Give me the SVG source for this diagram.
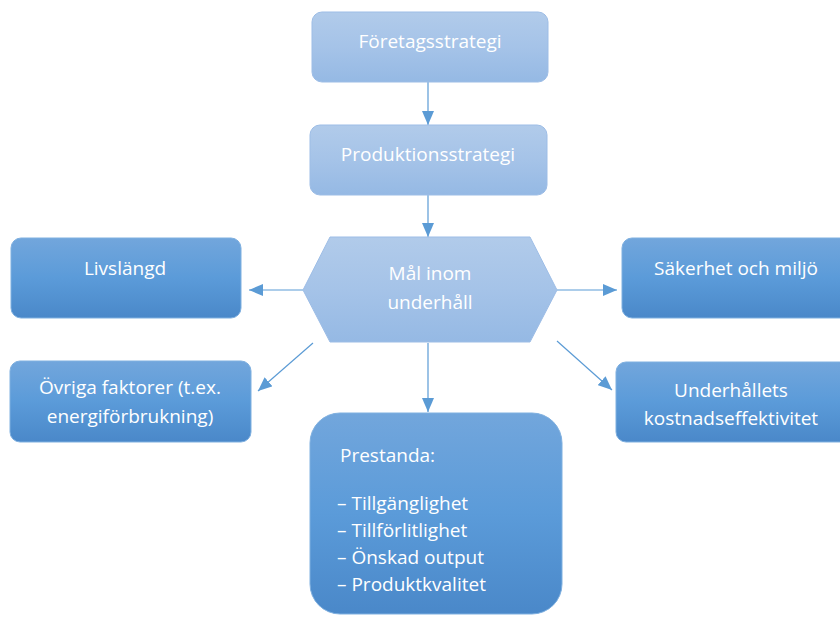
<svg xmlns="http://www.w3.org/2000/svg" width="840" height="617" viewBox="0 0 840 617">
<defs>
<linearGradient id="gLight" x1="0" y1="0" x2="0" y2="1">
<stop offset="0" stop-color="#b1cbea"/>
<stop offset="0.5" stop-color="#a5c3e8"/>
<stop offset="1" stop-color="#95b9e4"/>
</linearGradient>
<linearGradient id="gDark" x1="0" y1="0" x2="0" y2="1">
<stop offset="0" stop-color="#72a6dc"/>
<stop offset="0.5" stop-color="#5b9bd9"/>
<stop offset="1" stop-color="#4a88c9"/>
</linearGradient>
<marker id="arr" viewBox="0 0 14 12" refX="14" refY="6" markerWidth="14" markerHeight="12" markerUnits="userSpaceOnUse" orient="auto">
<path d="M0,0 L14,6 L0,12 Z" fill="#5b9bd5"/>
</marker>
<style>
.light{fill:url(#gLight);stroke:#9dbde6;stroke-width:1}
.dark{fill:url(#gDark);stroke:#7fb0e0;stroke-width:1}
.t{font-family:"Open Sans","Liberation Sans",sans-serif;font-size:19px;fill:#ffffff;text-anchor:middle}
.tl{font-family:"Open Sans","Liberation Sans",sans-serif;font-size:19px;fill:#ffffff}
.c{stroke:#5b9bd5;stroke-width:1.2;fill:none;marker-end:url(#arr)}
</style>
</defs>
<g id="connectors">
<line class="c" x1="428" y1="82" x2="428" y2="125"/>
<line class="c" x1="428" y1="195" x2="428" y2="237"/>
<line class="c" x1="303" y1="290" x2="249" y2="290"/>
<line class="c" x1="557" y1="290" x2="617" y2="290"/>
<line class="c" x1="313" y1="343" x2="258" y2="391"/>
<line class="c" x1="557" y1="341" x2="612" y2="390"/>
<line class="c" x1="428" y1="343" x2="428" y2="412"/>
</g>
<g id="foretagsstrategi">
<rect class="light" x="312" y="12" width="236" height="70" rx="10"/>
<text class="t" x="430" y="48">Företagsstrategi</text>
</g>
<g id="produktionsstrategi">
<rect class="light" x="310" y="125" width="237" height="70" rx="10"/>
<text class="t" x="428" y="161">Produktionsstrategi</text>
</g>
<g id="mal">
<polygon class="light" points="330,237 530,237 557,290 530,342 330,342 303,290"/>
<text class="t" x="430" y="280">Mål inom</text>
<text class="t" x="430" y="309">underhåll</text>
</g>
<g id="livslangd">
<rect class="dark" x="11" y="238" width="230" height="80" rx="10"/>
<text class="t" x="125" y="275">Livslängd</text>
</g>
<g id="ovriga">
<rect class="dark" x="10" y="361" width="241" height="81" rx="10"/>
<text class="t" x="130" y="394">Övriga faktorer (t.ex.</text>
<text class="t" x="130" y="423">energiförbrukning)</text>
</g>
<g id="sakerhet">
<rect class="dark" x="622" y="238" width="228" height="80" rx="10"/>
<text class="t" x="736" y="275">Säkerhet och miljö</text>
</g>
<g id="underhallets">
<rect class="dark" x="616" y="362" width="234" height="80" rx="10"/>
<text class="t" x="731" y="397">Underhållets</text>
<text class="t" x="731" y="425">kostnadseffektivitet</text>
</g>
<g id="prestanda">
<rect class="dark" x="310" y="413" width="252" height="201" rx="30"/>
<text class="tl" x="340" y="462">Prestanda:</text>
<text class="tl" x="337" y="510">– Tillgänglighet</text>
<text class="tl" x="337" y="537">– Tillförlitlighet</text>
<text class="tl" x="337" y="564">– Önskad output</text>
<text class="tl" x="337" y="591">– Produktkvalitet</text>
</g>
</svg>
